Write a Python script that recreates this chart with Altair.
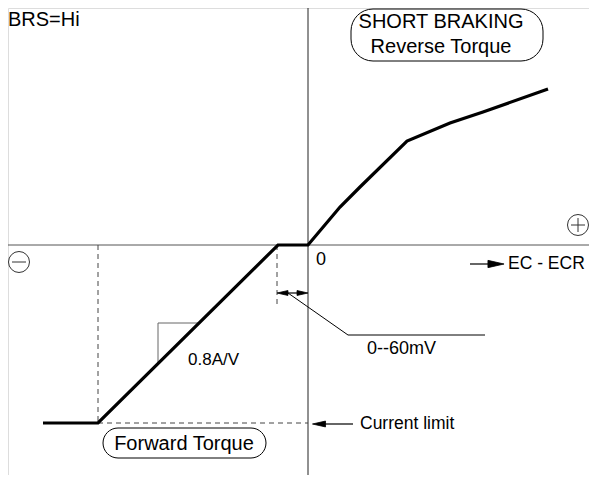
import altair as alt
import pandas as pd

# Diagram coordinates: origin at the axes crossing, y up (arbitrary units)
X_DOMAIN = [-300, 281]
Y_DOMAIN = [-230, 237]

# Characteristic curve (thick)
curve_x = [-265, -210, -30, 0, 32, 52, 99, 142, 175, 240]
curve_y = [-178, -178, 0, 0, 38, 58, 104, 122, 133, 156]

# Axes
axis_h = dict(x=[-300], y=[0], x2=[281], y2=[0])
axis_v = dict(x=[0], y=[237], x2=[0], y2=[-230])

# Dashed guides
dash_x = [-210, -210, -31]
dash_y = [0, -178, 0]
dash_x2 = [-210, 0, -31]
dash_y2 = [-178, -178, -60]

# Slope triangle
tri_x = [-150, -150, -109]
tri_y = [-119, -78, -78]

# Leader line to "0--60mV"
lead_x = [-20, 40, 177]
lead_y = [-48, -90, -90]

# Arrow shafts
shaft_x = [-26, 162, 16]
shaft_y = [-48, -19, -179]
shaft_x2 = [-5, 183, 45]
shaft_y2 = [-48, -19, -179]

# Arrowheads (centre positions, direction angle, size)
head_x = [-25.5, -5.5, 188, 11]
head_y = [-48, -48, -19, -179]
head_angle = [180, 0, 0, 180]
head_size = [120, 120, 260, 170]

# Rounded boxes
box_x = [43, -205]
box_x2 = [235, -42]
box_y = [236, -183]
box_y2 = [184, -213]
box_r = [22, 15]

# Texts
texts = ["BRS=Hi", "SHORT BRAKING", "Reverse Torque", "0", "EC - ECR",
         "0--60mV", "0.8A/V", "Current limit", "Forward Torque"]
text_x = [-300, 133, 133, 8, 200, 59, -120, 52, -124]
text_y = [225, 223, 198, -15, -19, -104, -115, -179, -199]
text_align = ["left", "center", "center", "left", "left", "left", "left", "left", "center"]
text_size = [20, 20, 20, 18, 17.5, 18, 17, 17.5, 20]

# Sign circles
sign_x = [-289, 270]
sign_y = [-17, 20]
minus_seg = dict(x=[-296], y=[-17], x2=[-282], y2=[-17])
plus_seg = dict(x=[263, 270], y=[20, 27], x2=[277, 270], y2=[20, 13])

W, H = 581, 467
FONT = "Liberation Sans"

xs = alt.Scale(domain=X_DOMAIN, nice=False, zero=False)
ys = alt.Scale(domain=Y_DOMAIN, nice=False, zero=False)


def X(f="x"):
    return alt.X(f"{f}:Q", scale=xs, axis=None)


def Y(f="y"):
    return alt.Y(f"{f}:Q", scale=ys, axis=None)


def rules(d, **kw):
    return alt.Chart(pd.DataFrame(d)).mark_rule(**kw).encode(
        x=X(), y=Y(), x2="x2:Q", y2="y2:Q")


axes = rules(axis_h, color="#555555", strokeWidth=1) + rules(axis_v, color="#222222", strokeWidth=1)

dashed = rules(dict(x=dash_x, y=dash_y, x2=dash_x2, y2=dash_y2),
               color="#444444", strokeWidth=1, strokeDash=[5, 4])

shafts = rules(dict(x=shaft_x, y=shaft_y, x2=shaft_x2, y2=shaft_y2),
               color="black", strokeWidth=1.2)

signs_lines = rules(minus_seg, color="#333333", strokeWidth=1) + rules(plus_seg, color="#333333", strokeWidth=1)


def polyline(xv, yv, **kw):
    df = pd.DataFrame(dict(x=xv, y=yv, o=list(range(len(xv)))))
    return alt.Chart(df).mark_line(**kw).encode(x=X(), y=Y(), order="o:Q")


curve = polyline(curve_x, curve_y, color="black", strokeWidth=3.2, strokeJoin="miter")
tri = polyline(tri_x, tri_y, color="#666666", strokeWidth=1)
lead = polyline(lead_x, lead_y, color="black", strokeWidth=1)

heads = alt.Chart(pd.DataFrame(dict(x=head_x, y=head_y, a=head_angle, s=head_size))).mark_point(
    shape="M-1,-0.45L1,0L-1,0.45Z", filled=True, color="black", opacity=1,
    stroke="black", strokeWidth=0.8
).encode(x=X(), y=Y(), angle=alt.Angle("a:Q", scale=None),
         size=alt.Size("s:Q", scale=None, legend=None))

box_df = pd.DataFrame(dict(x=box_x, x2=box_x2, y=box_y, y2=box_y2))
boxes = alt.layer(*[
    alt.Chart(box_df.iloc[[i]]).mark_rect(
        fillOpacity=0, stroke="black", strokeWidth=1, cornerRadius=box_r[i]
    ).encode(x=X(), x2="x2:Q", y=Y(), y2="y2:Q")
    for i in range(len(box_r))
])

circles = alt.Chart(pd.DataFrame(dict(x=sign_x, y=sign_y))).mark_point(
    shape="circle", filled=False, color="#333333", size=440, strokeWidth=1, opacity=1
).encode(x=X(), y=Y())

tdf = pd.DataFrame(dict(t=texts, x=text_x, y=text_y, al=text_align, s=text_size))
labels = alt.layer(*[
    alt.Chart(tdf[(tdf.al == a) & (tdf.s == s)]).mark_text(
        align=a, baseline="middle", font=FONT, fontSize=s, color="black"
    ).encode(x=X(), y=Y(), text="t:N")
    for a in ["left", "center"] for s in sorted(set(text_size))
    if ((tdf.al == a) & (tdf.s == s)).any()
])

chart = alt.layer(
    axes, dashed, tri, lead, shafts, curve, heads, boxes, circles, signs_lines, labels
).properties(
    width=W, height=H, autosize=alt.AutoSizeParams(type="none"), padding=0
).configure_view(stroke=None).configure(background="white")

chart.save("out.html", embed_options={"renderer": "svg", "actions": False})
